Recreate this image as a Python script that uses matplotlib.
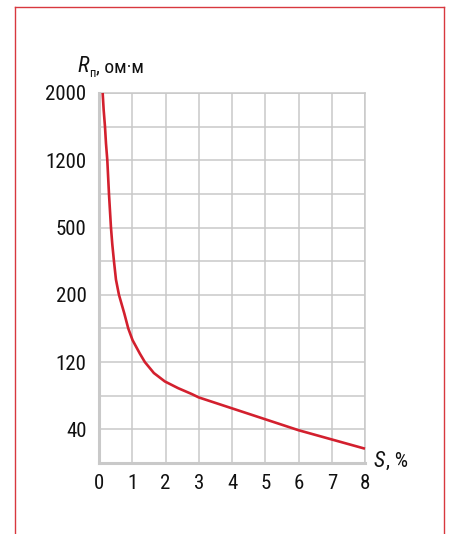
import matplotlib
matplotlib.use("Agg")
import matplotlib.pyplot as plt
from matplotlib import font_manager as fm
from matplotlib.lines import Line2D
import numpy as np

# pick a narrow font if one is installed
installed = {(f.name, f.stretch) for f in fm.fontManager.ttflist}
names = {n for n, _ in installed}
FONT = "DejaVu Sans"
STRETCH = "normal"
for cand in ["Liberation Sans Narrow", "Roboto Condensed", "Open Sans Condensed",
             "Noto Sans Condensed", "DejaVu Sans Condensed"]:
    if cand in names:
        FONT = cand
        break
else:
    for n, st in installed:
        if n in ("Roboto", "Open Sans", "Noto Sans", "DejaVu Sans") and str(st) in ("condensed", "semi-condensed", "75", "87.5"):
            FONT, STRETCH = n, st
            break
plt.rcParams["font.family"] = [FONT, "DejaVu Sans"]
plt.rcParams["font.stretch"] = STRETCH

# data
s_percent = [0.11, 0.14, 0.18, 0.21, 0.25, 0.30, 0.36, 0.40, 0.45, 0.51, 0.60,
             0.76, 0.88, 1.01, 1.23, 1.38, 1.65, 1.98, 2.38, 2.79, 3.0,
             4.0, 5.0, 6.0, 7.0, 8.0]
r_ohm = [2000, 1800, 1600, 1400, 1200, 850, 500, 425, 350, 268, 200,
         178, 160, 146, 130, 120, 107, 97, 89, 82, 78,
         65, 52, 39, 28, 17]

y_tick_values = [40, 120, 200, 500, 1200, 2000]
y_minor_values = [80, 160, 350, 850, 1600]
x_ticks = [0, 1, 2, 3, 4, 5, 6, 7, 8]

# uneven vertical scale of the original (equal steps between labels)
scale_values = [0, 40, 120, 200, 500, 1200, 2000]
scale_pos = [0, 1, 3, 5, 7, 9, 11]


def forward(v):
    return np.interp(v, scale_values, scale_pos)


def inverse(p):
    return np.interp(p, scale_pos, scale_values)


GRID = "#c9c9c9"
RED = "#d3202e"
FRAME = "#d8383f"
TXT = "#111111"

fig = plt.figure(figsize=(4.49, 5.34), dpi=100)
ax = fig.add_axes([99 / 449, 71 / 534, 266 / 449, 370 / 534])

ax.set_yscale("function", functions=(forward, inverse))
ax.set_xlim(0, 8)
ax.set_ylim(0, 2000)

ax.set_xticks(x_ticks)
ax.set_yticks(y_tick_values)
ax.set_yticks(y_minor_values, minor=True)
ax.set_yticklabels([str(v) for v in y_tick_values])
ax.grid(True, which="both", color=GRID, linewidth=1.1)
ax.set_axisbelow(True)
ax.tick_params(which="both", length=0, labelsize=15, colors=TXT)
ax.tick_params(axis="y", pad=9)
ax.tick_params(axis="x", pad=8)

for side in ["left", "bottom"]:
    ax.spines[side].set_color(GRID)
    ax.spines[side].set_linewidth(2.2)
for side in ["top", "right"]:
    ax.spines[side].set_color(GRID)
    ax.spines[side].set_linewidth(1.1)

ax.plot(s_percent, r_ohm, color=RED, linewidth=1.9, zorder=5, clip_on=False,
        solid_capstyle="butt", solid_joinstyle="round")


def caption(x_px, y_px, parts):
    """parts: (text, size, style, dy_px); placed one after another."""
    renderer = fig.canvas.get_renderer()
    x = x_px
    for text, size, style, dy in parts:
        t = fig.text(x / 449, 1 - (y_px + dy) / 534, text, fontsize=size,
                     style=style, ha="left", va="baseline", color=TXT)
        bb = t.get_window_extent(renderer)
        x = bb.x1 + 0.5


caption(77, 72, [("R", 16, "italic", 0), ("п", 9, "normal", 5),
                 (", ом·м", 14, "normal", 0)])
caption(374, 467, [("S", 16, "italic", 0), (", %", 15, "normal", 0)])

# red frame around the figure
y_top = 1 - 7 / 534
x_l = 15 / 449
x_r = 444 / 449
fig.add_artist(Line2D([x_l, x_r], [y_top, y_top], color=FRAME, linewidth=1.0))
fig.add_artist(Line2D([x_l, x_l], [0, y_top], color=FRAME, linewidth=1.0))
fig.add_artist(Line2D([x_r, x_r], [0, y_top], color=FRAME, linewidth=1.0))

fig.savefig("out.png", dpi=100, facecolor="white")
